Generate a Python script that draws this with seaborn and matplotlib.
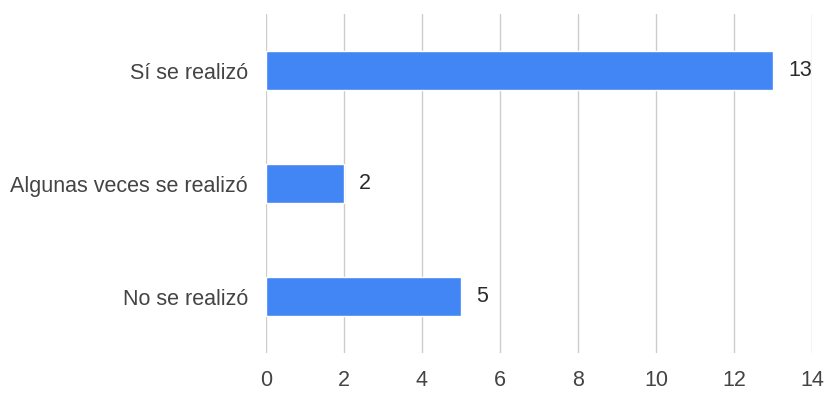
import matplotlib
matplotlib.use("Agg")
import matplotlib.pyplot as plt
import seaborn as sns
import pandas as pd

# data
categories = ["Sí se realizó", "Algunas veces se realizó", "No se realizó"]
counts = [13, 2, 5]
x_ticks = [0, 2, 4, 6, 8, 10, 12, 14]

df = pd.DataFrame({"Respuesta": categories, "Cantidad": counts})

sns.set_style("white")
plt.rcParams["font.family"] = ["Liberation Sans", "DejaVu Sans"]

fig = plt.figure(figsize=(8.27, 4.01), dpi=100)
ax = fig.add_axes([0.3216, 0.1197, 0.6603, 0.8453])

sns.barplot(data=df, x="Cantidad", y="Respuesta", orient="h", color="#4285F4",
            saturation=1, width=0.34, ax=ax)

ax.set_xlim(0, 14)
ax.set_xticks(x_ticks)
ax.set_ylim(2.5, -0.5)
ax.grid(axis="x", color="#cccccc", linewidth=1)
ax.set_axisbelow(True)
for s in ax.spines.values():
    s.set_visible(False)
ax.set_xlabel("")
ax.set_ylabel("")
ax.tick_params(axis="y", length=0, pad=13, labelsize=15.5, labelcolor="#444444")
ax.tick_params(axis="x", length=0, pad=12, labelsize=15.5, labelcolor="#444444")

ax.bar_label(ax.containers[0], padding=11, fontsize=15.5, color="#2a2a2a")

fig.savefig("out.png", dpi=100)
